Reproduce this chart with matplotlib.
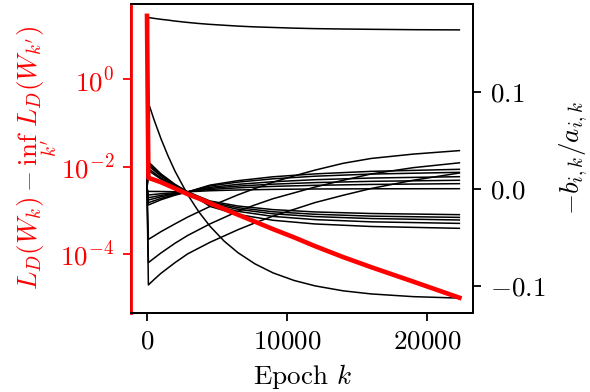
import matplotlib
matplotlib.use("Agg")
import matplotlib.pyplot as plt
from matplotlib.ticker import NullLocator

plt.rcParams.update({
    "font.family": "serif",
    "font.serif": ["cmr10"],
    "mathtext.fontset": "cm",
    "axes.formatter.use_mathtext": True,
    "font.size": 19.5,
})

# logged epochs (dense grid for the strongly curved series)
epochs_fine = [0, 100, 500, 1000, 1500, 2000, 2900, 3700, 4500, 5500, 6500,
               7700, 9000, 10500, 12000, 14000, 16000, 19000, 22300]
# coarser grid for the bundle of small ratios
epochs = [0, 100, 1000, 2000, 2900, 4500, 6500, 9000, 12000, 16000, 22300]

# excess loss (left, log scale)
loss = [28, 5.5e-3, 5.0e-3, 4.37e-3, 3.72e-3, 3.16e-3, 2.34e-3, 1.86e-3, 1.45e-3,
        1.07e-3, 7.9e-4, 5.5e-4, 3.7e-4, 2.4e-4, 1.51e-4, 8.5e-5, 5.0e-5, 2.34e-5, 1.0e-5]

# -b/a for each neuron (right axis), fine grid
top = [0, 0.177, 0.1761, 0.1751, 0.1743, 0.1733, 0.1719, 0.1708, 0.1699, 0.1690,
       0.1681, 0.1673, 0.1667, 0.1660, 0.1655, 0.1651, 0.1648, 0.1644, 0.1642]
steep = [0, 0.089, 0.0716, 0.0518, 0.0342, 0.0184, -0.0058, -0.0236, -0.0385, -0.0537,
         -0.0658, -0.0772, -0.0866, -0.0944, -0.100, -0.1051, -0.1083, -0.1111, -0.1126]
low_a = [0, -0.052, -0.0485, -0.044, -0.040, -0.036, -0.029, -0.0235, -0.018, -0.012,
         -0.006, 0.0005, 0.007, 0.0135, 0.0195, 0.0265, 0.0315, 0.036, 0.0396]
low_b = [0, -0.076, -0.0715, -0.066, -0.061, -0.056, -0.048, -0.042, -0.036, -0.0295,
         -0.023, -0.0165, -0.010, -0.004, 0.002, 0.009, 0.0155, 0.022, 0.027]
low_c = [0, -0.099, -0.0935, -0.087, -0.0815, -0.076, -0.067, -0.061, -0.055, -0.0485,
         -0.042, -0.035, -0.028, -0.021, -0.014, -0.0065, 0.0005, 0.009, 0.0165]

# -b/a, coarse grid
dec_a = [0, 0.028, 0.0156, 0.0048, -0.003, -0.0124, -0.0176, -0.0213, -0.0237, -0.0253, -0.0265]
dec_b = [0, 0.026, 0.0144, 0.0043, -0.003, -0.0135, -0.0193, -0.0235, -0.0261, -0.0280, -0.0293]
dec_c = [0, 0.024, 0.0132, 0.0037, -0.003, -0.0146, -0.0210, -0.0256, -0.0285, -0.0305, -0.0320]
dec_d = [0, 0.021, 0.0114, 0.0030, -0.003, -0.0160, -0.0231, -0.0283, -0.0316, -0.0339, -0.0355]
dec_e = [0, 0.019, 0.0102, 0.0025, -0.003, -0.0180, -0.0263, -0.0323, -0.0361, -0.0387, -0.0406]
rise_a = [0, -0.0025, -0.0026, -0.0028, -0.0029, -0.0018, -0.0010, -0.0004, 0.0, 0.0002, 0.0003]
rise_b = [0, -0.0062, -0.0049, -0.0038, -0.003, -0.0005, 0.0012, 0.0027, 0.0038, 0.0047, 0.0055]
rise_c = [0, -0.009, -0.0066, -0.0045, -0.003, 0.0006, 0.0030, 0.0050, 0.0066, 0.0079, 0.0090]
rise_d = [0, -0.0114, -0.0080, -0.0051, -0.003, 0.0017, 0.0048, 0.0075, 0.0096, 0.0113, 0.0127]
rise_e = [0, -0.0141, -0.0097, -0.0058, -0.003, 0.0031, 0.0071, 0.0105, 0.0132, 0.0154, 0.0172]
rise_f = [0, -0.0165, -0.0111, -0.0064, -0.003, 0.0040, 0.0086, 0.0126, 0.0156, 0.0182, 0.0203]

fine_curves = [top, steep, low_a, low_b, low_c]
coarse_curves = [dec_a, dec_b, dec_c, dec_d, dec_e,
                 rise_a, rise_b, rise_c, rise_d, rise_e, rise_f]

fig = plt.figure(figsize=(5.9, 3.92), dpi=100)
ax = fig.add_axes([0.222, 0.2015, 0.58, 0.7885])
ax2 = ax.twinx()
# red loss drawn over the black curves
ax.set_zorder(ax2.get_zorder() + 1)
ax.patch.set_visible(False)

for c in fine_curves:
    ax2.plot(epochs_fine, c, color="black", lw=1.1)
for c in coarse_curves:
    ax2.plot(epochs, c, color="black", lw=1.1)
ax.semilogy(epochs_fine, loss, color="red", lw=3.3)

ax.set_xlim(-1143, 23286)
ax.set_ylim(10 ** -5.35, 10 ** 1.72)
ax2.set_ylim(-0.128, 0.191)

ax.set_xticks([0, 10000, 20000])
ax.set_yticks([1e-4, 1e-2, 1])
ax.yaxis.set_minor_locator(NullLocator())
ax2.set_yticks([-0.1, 0.0, 0.1])

for a in (ax, ax2):
    for s in a.spines.values():
        s.set_linewidth(1.3)
    a.tick_params(length=6, width=1.3, pad=6)
ax.spines["left"].set_color("red")
ax.spines["left"].set_linewidth(2)
ax.tick_params(axis="y", colors="red")

ax.set_xlabel(r"Epoch $k$", labelpad=6)
ax.set_ylabel(r"$L_D(W_k) - \underset{k'}{\inf}\, L_D(W_{k'})$", color="red", labelpad=1)
ax2.set_ylabel(r"$-b_{i,k}/a_{i,k}$", labelpad=9)

fig.savefig("out.png", dpi=100)
